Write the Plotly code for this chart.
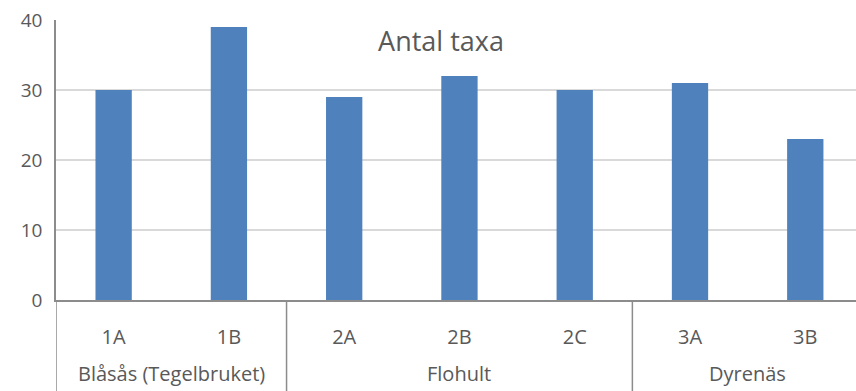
import plotly.graph_objects as go

groups = ["Blåsås (Tegelbruket)", "Blåsås (Tegelbruket)", "Flohult", "Flohult", "Flohult", "Dyrenäs", "Dyrenäs"]
sites = ["1A", "1B", "2A", "2B", "2C", "3A", "3B"]
values = [30, 39, 29, 32, 30, 31, 23]
y_ticks = [0, 10, 20, 30, 40]

FONT = "Open Sans"
TXT = "#595959"
LINE = "#8c8c8c"

W, H = 856, 391
ML, MT, MB = 56, 20, 91
PH = H - MT - MB

fig = go.Figure()
fig.add_trace(go.Bar(
    x=sites, y=values,
    marker=dict(color="#4f81bd", line=dict(width=0)),
    width=0.315,
))

# group spans from the groups list
spans = []
start = 0
for i in range(1, len(groups) + 1):
    if i == len(groups) or groups[i] != groups[start]:
        spans.append((groups[start], start, i - 1))
        start = i

bottom = -MB / PH
for name, a, b in spans:
    fig.add_shape(type="line", xref="x", yref="paper", x0=a - 0.5, x1=a - 0.5,
                  y0=0, y1=bottom, line=dict(color=LINE, width=1.5))
    fig.add_annotation(x=(a + b) / 2, xref="x", y=-(373 - (MT + PH)) / PH, yref="paper",
                       text=name, showarrow=False, yanchor="middle",
                       font=dict(family=FONT, size=20, color=TXT))

fig.update_layout(
    width=W, height=H,
    margin=dict(l=ML, r=0, t=MT, b=MB),
    plot_bgcolor="white", paper_bgcolor="white",
    showlegend=False,
    title=dict(text="Antal taxa", x=441 / W, xanchor="center", y=1 - 42 / H, yanchor="middle",
               xref="container", yref="container",
               font=dict(family=FONT, size=27, color=TXT)),
    font=dict(family=FONT, color=TXT),
)
fig.update_yaxes(
    range=[0, 40], tickvals=y_ticks, showgrid=True, gridcolor="#d9d9d9", gridwidth=1.5,
    showline=True, linecolor=LINE, linewidth=1.5, zeroline=False,
    tickfont=dict(size=19, color=TXT), ticks="", ticklabelstandoff=8,
)
fig.update_xaxes(
    type="category", range=[-0.5, 6.44],
    showline=True, linecolor=LINE, linewidth=1.5, showgrid=False,
    tickfont=dict(size=20, color=TXT), ticks="", ticklabelstandoff=18,
)
fig.write_html("out.html")
